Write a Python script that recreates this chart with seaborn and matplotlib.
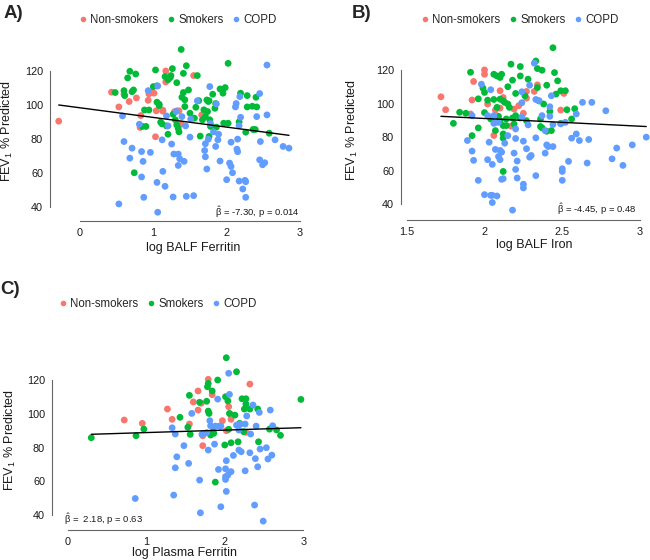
import pandas as pd
import matplotlib
matplotlib.use('Agg')
import matplotlib.pyplot as plt
import seaborn as sns
from matplotlib.lines import Line2D

# ---- Panel A: log BALF Ferritin vs FEV1 % predicted ----
a_non_x = [-0.29, 0.43, 0.53, 0.60, 0.67, 0.77, 0.82, 0.83, 0.93, 0.94, 0.98, 1.01, 1.04, 1.03,
           1.13, 1.13, 1.17, 1.17, 1.29, 1.32, 1.35, 1.38, 1.55, 1.66]
a_non_y = [90.4, 107.5, 98.8, 106.3, 102.0, 104.1, 86.7, 93.7, 102.7, 106.5, 107.3, 106.9, 96.5, 81.2,
           96.9, 96.3, 120.0, 113.5, 96.0, 96.5, 96.5, 88.8, 117.3, 94.1]
a_smk_x = [0.48, 0.60, 0.61, 0.65, 0.68, 0.71, 0.73, 0.76, 0.74, 0.85, 0.90, 0.88, 0.94, 1.00, 1.03,
           1.05, 1.05, 1.08, 1.08, 1.10, 1.12, 1.16, 1.18, 1.20, 1.20, 1.23, 1.24, 1.26, 1.27, 1.30,
           1.32, 1.34, 1.35, 1.32, 1.38, 1.39, 1.41, 1.41, 1.43, 1.43, 1.45, 1.48, 1.50, 1.56, 1.58,
           1.60, 1.62, 1.64, 1.67, 1.69, 1.71, 1.73, 1.74, 1.75, 1.76, 1.76, 1.78, 1.77, 1.81, 1.84,
           1.85, 1.86, 1.91, 1.95, 1.96, 1.98, 2.02, 2.02, 2.17, 2.19, 2.26, 2.28, 2.28, 2.35, 2.36,
           2.39, 2.40, 2.41, 2.58]
a_smk_y = [107.3, 108.4, 105.5, 115.9, 119.8, 107.8, 108.8, 118.2, 60.0, 87.3, 87.3, 97.0, 97.0, 110.8, 120.6,
           111.2, 101.6, 100.4, 99.6, 89.8, 88.8, 116.7, 87.6, 82.7, 114.9, 116.1, 117.3, 121.4, 94.5, 91.2,
           88.2, 86.1, 84.1, 113.1, 132.7, 104.5, 107.3, 118.6, 103.0, 99.0, 123.1, 108.8, 95.1, 92.2, 98.6,
           117.3, 102.5, 81.6, 91.2, 97.1, 93.1, 102.9, 96.1, 102.0, 102.5, 81.4, 87.3, 91.2, 106.3, 98.0,
           100.8, 86.9, 109.4, 106.9, 89.2, 110.2, 124.5, 89.2, 90.0, 106.9, 83.9, 98.8, 105.5, 99.2, 85.5,
           85.5, 104.5, 98.8, 83.3]
a_copd_x = [0.53, 0.58, 0.60, 0.68, 0.71, 0.81, 0.84, 0.84, 0.86, 0.87, 0.93, 0.96, 1.05, 1.06, 1.06,
            1.13, 1.12, 1.16, 1.18, 1.20, 1.25, 1.27, 1.28, 1.31, 1.34, 1.34, 1.36, 1.39, 1.42, 1.44,
            1.45, 1.50, 1.51, 1.55, 1.60, 1.70, 1.71, 1.71, 1.73, 1.75, 1.77, 1.78, 1.82, 1.85, 1.86,
            1.88, 1.89, 1.91, 2.00, 2.04, 2.06, 2.06, 2.08, 2.12, 2.13, 2.14, 2.15, 2.15, 2.17, 2.17,
            2.18, 2.19, 2.22, 2.25, 2.26, 2.26, 2.41, 2.45, 2.45, 2.46, 2.49, 2.52, 2.55, 2.55, 2.66,
            2.77, 2.85]
a_copd_y = [41.6, 93.5, 78.4, 68.6, 74.5, 88.6, 72.5, 57.5, 66.7, 45.5, 108.4, 72.0, 54.3, 36.7, 111.2,
            60.8, 79.4, 52.0, 93.5, 87.6, 76.9, 45.7, 71.0, 96.1, 64.3, 71.0, 68.2, 93.1, 66.7, 87.6,
            46.1, 81.0, 91.6, 46.5, 102.4, 73.1, 77.1, 69.4, 62.2, 79.8, 110.8, 89.0, 84.1, 75.5, 100.6,
            79.4, 82.7, 66.9, 55.9, 65.7, 78.0, 63.7, 60.0, 98.8, 100.8, 73.9, 72.4, 79.8, 87.8, 55.1,
            104.9, 92.7, 50.4, 55.5, 54.7, 45.5, 93.1, 106.7, 67.6, 78.4, 64.7, 65.9, 123.5, 94.1, 79.4,
            75.5, 74.5]

# ---- Panel B: log BALF Iron ----
b_non_x = [1.72, 1.75, 1.93, 1.91, 1.92, 2.00, 2.00, 2.02, 2.07, 2.06, 2.07, 2.10, 2.10, 2.12,
           2.17, 2.19, 2.22, 2.25, 2.27, 2.27, 2.32, 2.34, 2.49, 2.51]
b_non_y = [104.0, 96.3, 113.1, 93.8, 102.1, 120.0, 117.4, 99.7, 96.1, 81.0, 88.8, 107.6, 97.3, 103.6,
           86.5, 96.7, 98.7, 94.2, 107.2, 103.2, 107.2, 111.1, 96.1, 106.0]
b_smk_x = [1.80, 1.84, 1.88, 1.91, 1.92, 1.96, 1.96, 1.99, 2.00, 2.00, 2.02, 2.04, 2.06, 2.06, 2.07,
           2.08, 2.08, 2.09, 2.10, 2.10, 2.10, 2.11, 2.12, 2.12, 2.12, 2.12, 2.12, 2.13, 2.14, 2.14,
           2.15, 2.15, 2.16, 2.17, 2.18, 2.18, 2.19, 2.20, 2.20, 2.23, 2.23, 2.23, 2.26, 2.27, 2.28,
           2.33, 2.34, 2.34, 2.35, 2.36, 2.36, 2.37, 2.37, 2.38, 2.40, 2.40, 2.42, 2.44, 2.43, 2.45,
           2.47, 2.46, 2.49, 2.49, 2.52, 2.53, 2.56, 2.58]
b_smk_y = [88.2, 94.8, 94.2, 118.6, 80.9, 102.8, 85.5, 109.2, 106.6, 94.6, 102.0, 90.8, 102.4, 117.4, 83.9,
           116.4, 97.7, 92.4, 115.5, 102.6, 89.8, 117.4, 101.6, 86.9, 79.4, 81.9, 59.6, 100.7, 90.8, 86.9,
           110.0, 99.7, 97.7, 123.4, 113.9, 91.4, 87.8, 106.0, 92.8, 91.4, 122.0, 116.4, 104.6, 89.8, 114.5,
           125.3, 120.8, 109.5, 101.6, 90.8, 86.3, 119.8, 85.5, 99.7, 110.9, 83.5, 95.3, 133.2, 83.9, 118.4,
           113.5, 105.6, 107.6, 88.2, 107.6, 96.3, 90.8, 96.9]
b_copd_x = [1.89, 1.92, 1.92, 1.93, 1.96, 1.98, 2.00, 2.02, 2.02, 2.03, 2.04, 2.04, 2.05, 2.05, 2.05,
            2.06, 2.06, 2.07, 2.08, 2.09, 2.09, 2.10, 2.10, 2.11, 2.11, 2.12, 2.13, 2.15, 2.18, 2.19,
            2.20, 2.20, 2.20, 2.21, 2.21, 2.24, 2.24, 2.24, 2.25, 2.25, 2.25, 2.27, 2.28, 2.29, 2.29,
            2.30, 2.32, 2.33, 2.33, 2.33, 2.35, 2.37, 2.39, 2.39, 2.40, 2.41, 2.42, 2.42, 2.43, 2.44,
            2.44, 2.49, 2.50, 2.50, 2.50, 2.52, 2.54, 2.56, 2.59, 2.59, 2.61, 2.63, 2.66, 2.67, 2.69,
            2.78, 2.82, 2.85, 2.89, 2.95, 3.04]
b_copd_y = [78.0, 92.8, 71.7, 66.2, 54.3, 111.5, 45.8, 66.6, 92.8, 77.0, 45.4, 108.2, 63.8, 45.4, 41.1,
            92.8, 88.2, 72.7, 45.0, 88.8, 68.5, 66.6, 72.1, 54.9, 71.1, 55.3, 76.4, 80.9, 36.6, 70.5,
            84.9, 79.2, 60.8, 65.8, 55.7, 91.8, 107.0, 100.5, 52.0, 49.8, 77.6, 73.1, 87.3, 110.9, 68.1,
            69.1, 124.0, 57.1, 79.6, 102.4, 101.6, 92.8, 83.9, 70.5, 75.4, 74.4, 98.1, 92.4, 104.6, 87.5,
            74.4, 87.9, 61.2, 59.6, 54.3, 88.8, 65.6, 79.4, 81.9, 93.8, 78.0, 100.7, 64.6, 78.6, 100.7,
            95.7, 67.1, 73.5, 63.2, 75.4, 80.0]

# ---- Panel C: log Plasma Ferritin ----
c_non_x = [0.72, 0.95, 1.27, 1.33, 1.55, 1.60, 1.66, 1.66, 1.70, 1.72, 1.72, 1.79, 1.84, 1.97,
           2.02, 2.05, 2.07, 2.08, 2.32, 2.27]
c_non_y = [96.3, 94.3, 102.8, 96.7, 93.9, 107.0, 102.2, 113.5, 106.2, 81.1, 87.0, 120.4, 111.3, 95.9,
           90.0, 104.2, 99.8, 96.7, 117.6, 89.0]
c_smk_x = [0.30, 0.87, 0.97, 1.43, 1.53, 1.55, 1.56, 1.68, 1.77, 1.78, 1.79, 1.79, 1.80, 1.82, 1.84,
           1.85, 1.86, 1.88, 1.91, 2.01, 2.00, 2.02, 2.04, 2.05, 2.06, 2.08, 2.13, 2.15, 2.17, 2.19,
           2.22, 2.24, 2.25, 2.27, 2.27, 2.32, 2.42, 2.43, 2.57, 2.66, 2.71, 2.97]
c_smk_y = [85.8, 87.0, 90.9, 97.9, 92.0, 110.9, 87.8, 106.8, 107.4, 116.0, 118.0, 101.6, 100.2, 87.4, 113.5,
           89.4, 88.4, 59.5, 120.0, 110.1, 81.5, 133.2, 107.6, 90.8, 100.2, 82.8, 99.2, 124.9, 83.4, 94.3,
           108.9, 89.4, 102.8, 108.9, 105.8, 102.8, 102.8, 83.4, 90.9, 90.4, 87.2, 108.5]
c_copd_x = [0.86, 1.33, 1.35, 1.37, 1.37, 1.39, 1.48, 1.54, 1.58, 1.68, 1.69, 1.71, 1.77, 1.79, 1.81,
            1.82, 1.88, 1.87, 1.91, 1.93, 1.92, 1.95, 1.95, 2.01, 2.01, 2.01, 2.02, 2.02, 2.04, 2.05,
            2.06, 2.08, 2.11, 2.15, 2.18, 2.18, 2.20, 2.21, 2.26, 2.26, 2.28, 2.32, 2.33, 2.36, 2.39,
            2.38, 2.40, 2.42, 2.44, 2.45, 2.49, 2.53, 2.55, 2.58, 2.60, 2.61]
c_copd_y = [49.8, 91.7, 51.8, 88.0, 68.0, 74.5, 81.1, 70.6, 100.2, 60.7, 41.3, 87.8, 88.8, 78.5, 95.9,
            92.9, 92.7, 82.0, 108.7, 92.7, 67.0, 92.7, 44.9, 67.4, 62.7, 61.1, 72.2, 54.0, 63.7, 124.0,
            111.5, 65.7, 75.3, 93.3, 90.4, 78.5, 93.9, 77.5, 93.9, 66.2, 98.7, 76.9, 88.0, 105.2, 73.4,
            45.9, 92.7, 68.6, 100.8, 79.1, 36.4, 79.9, 73.2, 102.2, 75.5, 92.9]

groups = ['Non-smokers', 'Smokers', 'COPD']
colors = ['#F8766D', '#00BA38', '#619CFF']

# fitted lines (intercept, slope)
fit_a = (98.3, -5.7)
fit_b = (100.3, -4.6)
fit_c = (87.4, 1.46)

stat_a = '$\\hat{\\beta}$ = -7.30, p = 0.014'
stat_b = '$\\hat{\\beta}$ = -4.45, p = 0.48'
stat_c = '$\\hat{\\beta}$ =  2.18, p = 0.63'


def make_df(non_x, non_y, smk_x, smk_y, copd_x, copd_y):
    parts = []
    for g, xs, ys in zip(groups, [non_x, smk_x, copd_x], [non_y, smk_y, copd_y]):
        parts.append(pd.DataFrame({'x': xs, 'y': ys, 'group': g}))
    return pd.concat(parts, ignore_index=True)


sns.set_style('white')
plt.rcParams['font.family'] = ['Liberation Sans', 'DejaVu Sans']
plt.rcParams['mathtext.fontset'] = 'custom'
plt.rcParams['mathtext.rm'] = 'Liberation Sans'
plt.rcParams['mathtext.it'] = 'Liberation Sans'
plt.rcParams['mathtext.bf'] = 'Liberation Sans:bold'

fig = plt.figure(figsize=(6.5, 5.6), dpi=100)

panels = [
    # data, fit, stat, xlabel, ax rect, xlim, ylim, xticks, stat pos, ylabel x, xlabel pos
    (make_df(a_non_x, a_non_y, a_smk_x, a_smk_y, a_copd_x, a_copd_y), fit_a, stat_a,
     'log BALF Ferritin', [0.0769, 0.6116, 0.3846, 0.3098], (-0.409, 3.0), (33.6, 135.9),
     [0, 1, 2, 3], (1.0, 0.03, 'right'), -0.14, (0.572, -0.14)),
    (make_df(b_non_x, b_non_y, b_smk_x, b_smk_y, b_copd_x, b_copd_y), fit_b, stat_b,
     'log BALF Iron', [0.6169, 0.6125, 0.3831, 0.3089], (1.463, 3.064), (32.5, 135.4),
     [1.5, 2, 2.5, 3], (0.947, 0.045, 'right'), -0.165, (0.534, -0.13)),
    (make_df(c_non_x, c_non_y, c_smk_x, c_smk_y, c_copd_x, c_copd_y), fit_c, stat_c,
     'log Plasma Ferritin', [0.08, 0.0589, 0.3938, 0.3089], (-0.2, 3.06), (32.9, 135.4),
     [0, 1, 2, 3], (0.048, 0.046, 'left'), -0.133, (0.516, -0.116)),
]

for df, fit, stat, xlab, rect, xlim, ylim, xticks, spos, ylx, xlpos in panels:
    ax = fig.add_axes(rect)
    sns.scatterplot(data=df, x='x', y='y', hue='group', hue_order=groups,
                    palette=colors, s=24, linewidth=0, legend=False, ax=ax)
    x0, x1 = df['x'].min(), df['x'].max()
    ax.plot([x0, x1], [fit[0] + fit[1] * x0, fit[0] + fit[1] * x1],
            color='black', lw=1.0)
    ax.set_xlim(*xlim)
    ax.set_ylim(*ylim)
    ax.set_xticks(xticks)
    ax.set_xticklabels([f'{t:g}' for t in xticks])
    ax.set_yticks([40, 60, 80, 100, 120])
    sns.despine(ax=ax)
    ax.spines['left'].set_bounds(40, 120)
    ax.spines['bottom'].set_bounds(xticks[0], xticks[-1])
    ax.spines['bottom'].set_position(('outward', 2.2))
    for sp in ['left', 'bottom']:
        ax.spines[sp].set_color('#666666')
        ax.spines[sp].set_linewidth(0.8)
    ax.tick_params(axis='both', length=3, width=0.8, color='#666666',
                   labelsize=7.8, labelcolor='#1a1a1a', pad=2)
    ax.set_xlabel(xlab, fontsize=9, color='#1a1a1a')
    ax.set_ylabel('FEV$_1$ % Predicted', fontsize=9, color='#1a1a1a')
    ax.yaxis.set_label_coords(ylx, 0.5)
    ax.xaxis.set_label_coords(*xlpos)
    ax.text(spos[0], spos[1], stat, transform=ax.transAxes, ha=spos[2],
            va='center', fontsize=6.8, color='#1a1a1a')

# legends above each panel
handles = [Line2D([], [], marker='o', linestyle='', markersize=4,
                  markerfacecolor=c, markeredgewidth=0) for c in colors]
for cx, cy in [(177, 20), (519, 20), (157, 304)]:
    fig.legend(handles, groups, loc='center', bbox_to_anchor=(cx / 650, 1 - cy / 560),
               ncol=3, frameon=False, fontsize=8.3, handletextpad=0.15,
               columnspacing=0.6, handlelength=1.0, borderaxespad=0)

# panel letters
for lab, px, py in [('A)', 4, 14), ('B)', 352, 13), ('C)', 0, 289)]:
    fig.text(px / 650, 1 - py / 560, lab, fontsize=13.5, fontweight='bold',
             ha='left', va='center')

fig.savefig('out.png', dpi=100)
